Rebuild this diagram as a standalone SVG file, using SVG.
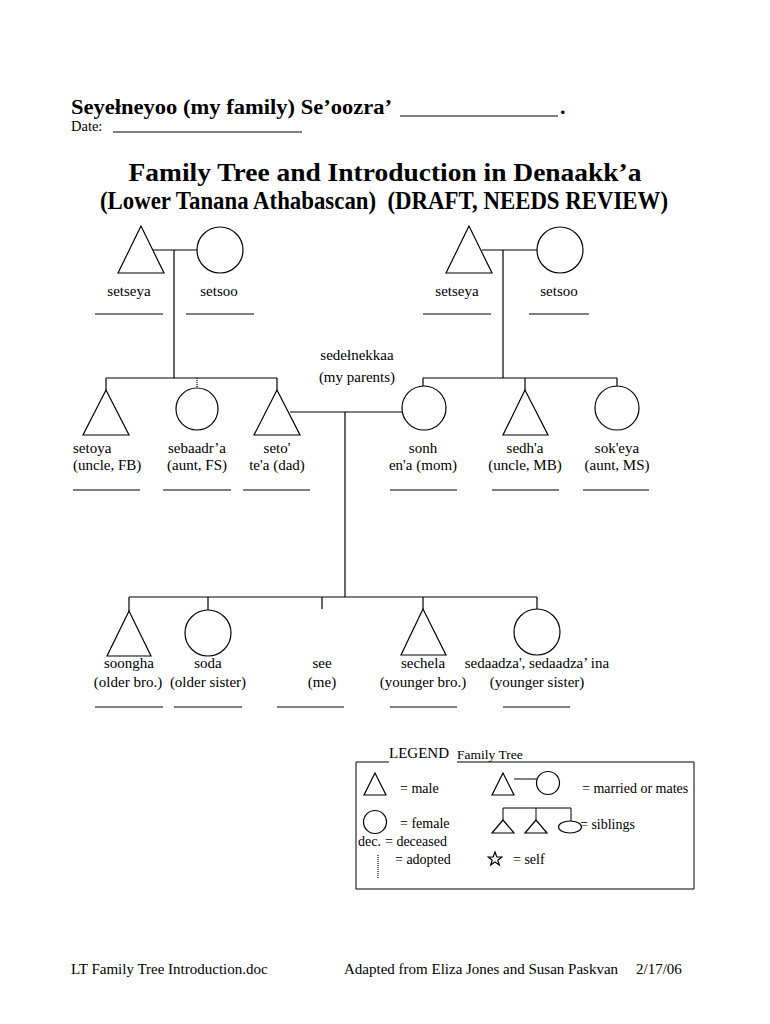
<svg xmlns="http://www.w3.org/2000/svg" width="770" height="1024" viewBox="0 0 770 1024">
<style>
text{font-family:"Liberation Serif","Times New Roman",serif;fill:#000}
.l{font-size:15px;text-anchor:middle}
.ls{font-size:15px}
.s{font-size:14px}
.sh{fill:#fff;stroke:#000;stroke-width:1.2}
.ln{stroke:#000;stroke-width:1.2;fill:none}
.bl{stroke:#000;stroke-width:1;fill:none}
.dot{stroke:#000;stroke-width:1.2;stroke-dasharray:1 1;fill:none}
</style>
<rect width="770" height="1024" fill="#fff"/>
<g id="header">
<text x="71" y="114" font-size="22" font-weight="bold" textLength="321" lengthAdjust="spacingAndGlyphs">Seyełneyoo (my family) Se’oozra’</text>
<line class="ln" x1="400" y1="116" x2="558" y2="116" stroke-width="1.5"/>
<text x="560" y="114" font-size="22" font-weight="bold">.</text>
<text x="71" y="131" font-size="14.5">Date:</text>
<line class="bl" x1="113" y1="132" x2="302" y2="132"/>
<text x="385" y="181" font-size="25" font-weight="bold" text-anchor="middle" textLength="513" lengthAdjust="spacingAndGlyphs">Family Tree and Introduction in Denaakk’a</text>
<text x="384" y="209" font-size="25" font-weight="bold" text-anchor="middle" textLength="568" lengthAdjust="spacingAndGlyphs" xml:space="preserve">(Lower Tanana Athabascan)  (DRAFT, NEEDS REVIEW)</text>
</g>
<g id="connectors">
<polyline class="ln" points="153,250 197,250"/>
<line class="ln" x1="174" y1="250" x2="174" y2="378"/>
<polyline class="ln" points="482,250 537,250"/>
<line class="ln" x1="503" y1="250" x2="503" y2="378"/>
<line class="ln" x1="106" y1="378" x2="277" y2="378"/>
<line class="ln" x1="106" y1="378" x2="106" y2="390"/>
<line class="dot" x1="197" y1="378" x2="197" y2="388"/>
<line class="ln" x1="277" y1="378" x2="277" y2="390"/>
<line class="ln" x1="423" y1="378" x2="617" y2="378"/>
<line class="ln" x1="423" y1="378" x2="423" y2="386"/>
<line class="ln" x1="525" y1="378" x2="525" y2="390"/>
<line class="ln" x1="617" y1="378" x2="617" y2="386"/>
<line class="ln" x1="290" y1="412" x2="402" y2="412"/>
<line class="ln" x1="345" y1="412" x2="345" y2="597"/>
<line class="ln" x1="129" y1="597" x2="537" y2="597"/>
<line class="ln" x1="129" y1="597" x2="129" y2="611"/>
<line class="ln" x1="208" y1="597" x2="208" y2="610"/>
<line class="ln" x1="322" y1="597" x2="322" y2="609"/>
<line class="ln" x1="423" y1="597" x2="423" y2="609"/>
<line class="ln" x1="537" y1="597" x2="537" y2="609"/>
</g>
<g id="gp-left-m"><polygon class="sh" points="141,226 118,273 164,273"/><text class="l" x="129" y="296">setseya</text><line class="bl" x1="95" y1="314" x2="163" y2="314"/></g>
<g id="gp-left-f"><circle class="sh" cx="220" cy="250" r="23"/><text class="l" x="219" y="296">setsoo</text><line class="bl" x1="186" y1="314" x2="254" y2="314"/></g>
<g id="gp-right-m"><polygon class="sh" points="469,226 446,273 492,273"/><text class="l" x="457" y="296">setseya</text><line class="bl" x1="423" y1="314" x2="491" y2="314"/></g>
<g id="gp-right-f"><circle class="sh" cx="560" cy="250" r="23"/><text class="l" x="559" y="296">setsoo</text><line class="bl" x1="529" y1="314" x2="589" y2="314"/></g>
<g id="parents-label"><text class="l" x="357" y="360">sedełnekkaa</text><text class="l" x="357" y="382">(my parents)</text></g>
<g id="uncle-fb"><polygon class="sh" points="106,390 83,435 129,435"/><text class="ls" x="73" y="453">setoya</text><text class="ls" x="73" y="470">(uncle, FB)</text><line class="bl" x1="73" y1="490" x2="140" y2="490"/></g>
<g id="aunt-fs"><circle class="sh" cx="197" cy="409" r="21"/><text class="l" x="197" y="453">sebaadr’a</text><text class="l" x="197" y="470">(aunt, FS)</text><line class="bl" x1="163" y1="490" x2="231" y2="490"/></g>
<g id="dad"><polygon class="sh" points="277,390 254,435 300,435"/><text class="l" x="277" y="453">seto'</text><text class="l" x="277" y="470">te'a (dad)</text><line class="bl" x1="243" y1="490" x2="310" y2="490"/></g>
<g id="mom"><circle class="sh" cx="424" cy="408" r="22"/><text class="l" x="423" y="453">sonh</text><text class="l" x="423" y="470">en'a (mom)</text><line class="bl" x1="390" y1="490" x2="457" y2="490"/></g>
<g id="uncle-mb"><polygon class="sh" points="525,390 503,435 548,435"/><text class="l" x="525" y="453">sedh'a</text><text class="l" x="525" y="470">(uncle, MB)</text><line class="bl" x1="492" y1="490" x2="559" y2="490"/></g>
<g id="aunt-ms"><circle class="sh" cx="617" cy="408" r="22"/><text class="l" x="617" y="453">sok'eya</text><text class="l" x="617" y="470">(aunt, MS)</text><line class="bl" x1="583" y1="490" x2="649" y2="490"/></g>
<g id="older-bro"><polygon class="sh" points="129,611 107,656 151,656"/><text class="l" x="129" y="668">soongha</text><text class="l" x="128" y="687">(older bro.)</text><line class="bl" x1="95" y1="707" x2="163" y2="707"/></g>
<g id="older-sister"><circle class="sh" cx="208" cy="633" r="23"/><text class="l" x="208" y="668">soda</text><text class="l" x="208" y="687">(older sister)</text><line class="bl" x1="174" y1="707" x2="242" y2="707"/></g>
<g id="me"><text class="l" x="322" y="668">see</text><text class="l" x="322" y="687">(me)</text><line class="bl" x1="277" y1="707" x2="344" y2="707"/></g>
<g id="younger-bro"><polygon class="sh" points="423,609 401,655 446,655"/><text class="l" x="423" y="668">sechela</text><text class="l" x="423" y="687">(younger bro.)</text><line class="bl" x1="390" y1="707" x2="457" y2="707"/></g>
<g id="younger-sister"><circle class="sh" cx="537" cy="632" r="23"/><text class="l" x="537" y="668">sedaadza', sedaadza’ ina</text><text class="l" x="537" y="687">(younger sister)</text><line class="bl" x1="503" y1="707" x2="570" y2="707"/></g>
<g id="legend">
<polyline class="bl" points="389,762 356,762 356,889 694,889 694,762 457,762"/>
<text x="389" y="758" font-size="15">LEGEND</text>
<text x="457" y="759" font-size="13.5">Family Tree</text>
<polygon class="sh" points="375,773 364,795 386,795"/>
<text class="s" x="400" y="793">= male</text>
<polygon class="sh" points="503,773 492,795 514,795"/>
<line class="bl" x1="514" y1="779" x2="537" y2="779"/>
<circle class="sh" cx="548" cy="783" r="11.5"/>
<text class="s" x="582" y="793">= married or mates</text>
<circle class="sh" cx="375" cy="822" r="11.5"/>
<text class="s" x="400" y="828" font-size="15">= female</text>
<polyline class="bl" points="503,820 503,808 571,808 571,821"/>
<line class="bl" x1="536" y1="808" x2="536" y2="820"/>
<polygon class="sh" points="503,820 492,833 514,833"/>
<polygon class="sh" points="536,820 525,833 547,833"/>
<ellipse class="sh" cx="570" cy="827" rx="11.5" ry="6"/>
<text class="s" x="580" y="829">= siblings</text>
<text class="s" x="358" y="846" font-size="15">dec.</text>
<text class="s" x="385" y="846" font-size="15">= deceased</text>
<line class="dot" x1="378" y1="855" x2="378" y2="878" stroke-width="1"/>
<text class="s" x="395" y="864" font-size="15">= adopted</text>
<polygon class="sh" stroke-width="1" points="495,852 496.8,857 501.7,857 497.8,860.2 499.3,865 495,862 490.7,865 492.2,860.2 488.3,857 493.2,857"/>
<text class="s" x="513" y="864" font-size="15">= self</text>
</g>
<g id="footer">
<text x="71" y="974" font-size="15">LT Family Tree Introduction.doc</text>
<text x="344" y="974" font-size="15">Adapted from Eliza Jones and Susan Paskvan</text>
<text x="636" y="974" font-size="15">2/17/06</text>
</g>
</svg>
